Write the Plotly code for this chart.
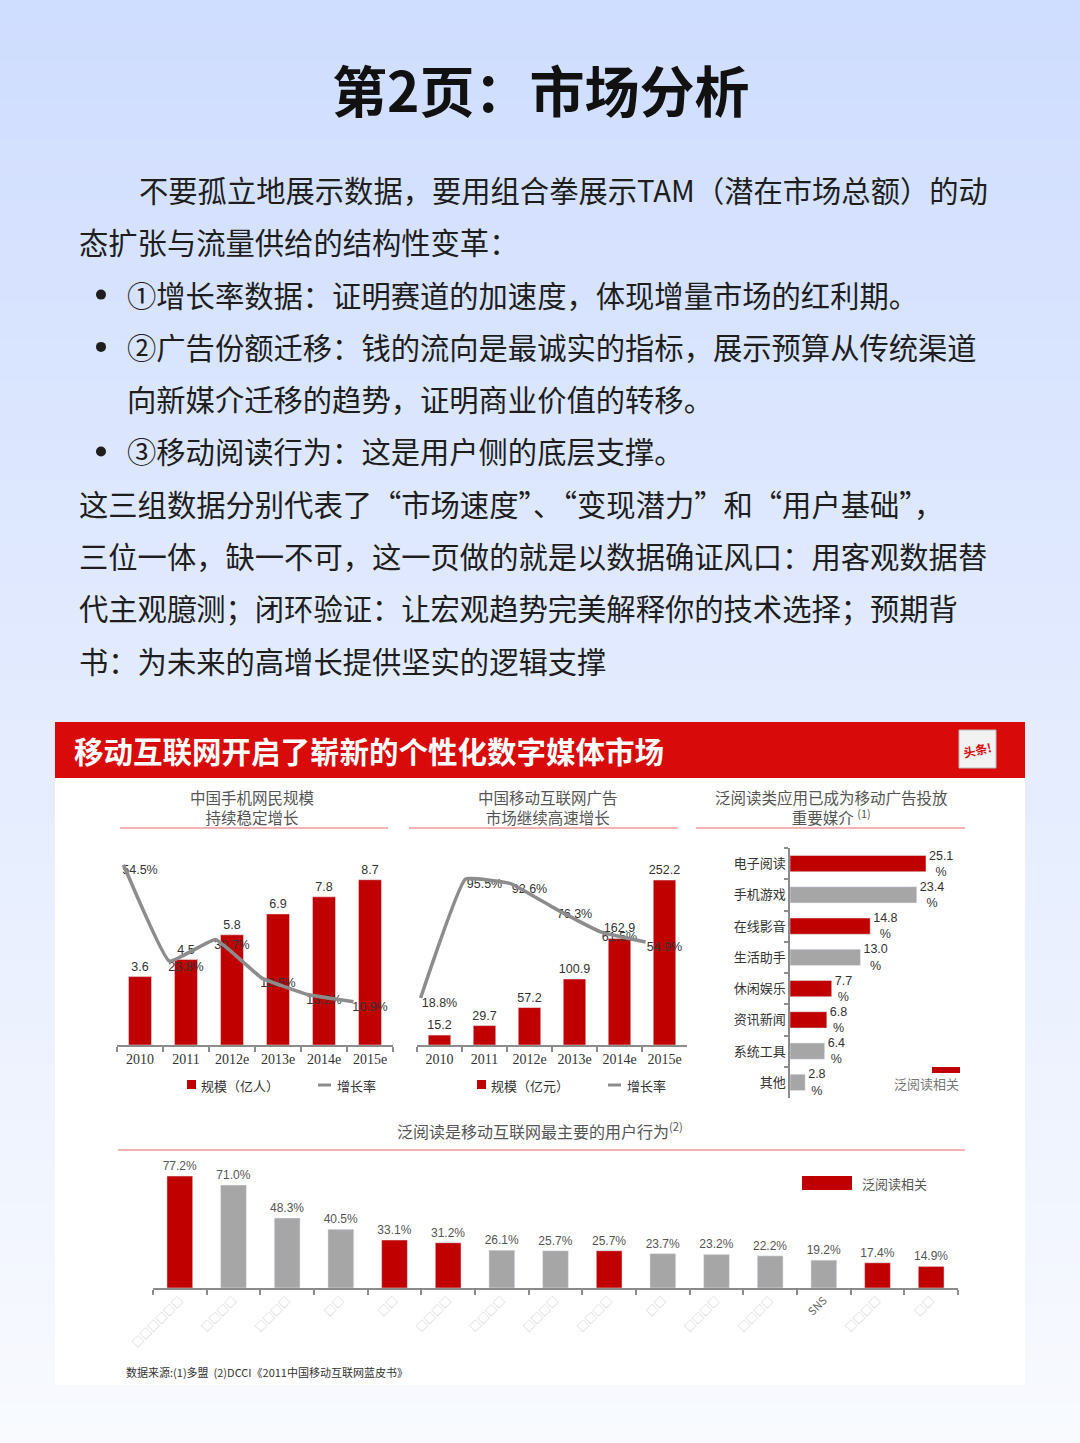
import plotly.graph_objects as go

W, H = 1080, 1443


def fx(p):
    return p / W


def fy(p):
    return 1 - p / H


# ---------------- data ----------------
years = ["2010", "2011", "2012e", "2013e", "2014e", "2015e"]
users = [3.6, 4.5, 5.8, 6.9, 7.8, 8.7]            # 规模（亿人）
users_growth = [54.5, 23.8, 30.7, 18.5, 13.2, 10.9]  # 增长率 %
ad_market = [15.2, 29.7, 57.2, 100.9, 162.9, 252.2]  # 规模（亿元）
ad_growth = [18.8, 95.5, 92.6, 76.3, 61.5, 54.9]     # 增长率 %

media = ["电子阅读", "手机游戏", "在线影音", "生活助手", "休闲娱乐", "资讯新闻", "系统工具", "其他"]
media_share = [25.1, 23.4, 14.8, 13.0, 7.7, 6.8, 6.4, 2.8]
media_reading = [True, False, True, False, True, True, False, False]

behavior_labels = ["□□□□□□", "□□□□", "□□□□", "□□", "□□", "□□□□", "□□□□", "□□□□",
                   "□□□□", "□□", "□□□□", "□□□□", "SNS", "□□□□", "□□"]
behavior_share = [77.2, 71.0, 48.3, 40.5, 33.1, 31.2, 26.1, 25.7, 25.7, 23.7, 23.2, 22.2, 19.2, 17.4, 14.9]
behavior_reading = [True, False, False, False, True, True, False, False, True, False, False, False, False, True, True]

# ---------------- styles ----------------
RED = "#C00000"
GRAY = "#A6A6A6"
LINE_GRAY = "#8C8C8C"
CJK = "Noto Sans CJK SC"
SANS = "Liberation Sans"
SERIF = "Liberation Serif"

fig = go.Figure()

bar_common = dict(textposition="outside", textangle=0, cliponaxis=False, constraintext="none",
                  showlegend=False, hoverinfo="skip")

# chart 1: 手机网民规模
fig.add_trace(go.Bar(x=years, y=users, xaxis="x", yaxis="y", width=0.5,
                     marker=dict(color=RED), text=[f"{v:.1f}" for v in users],
                     textfont=dict(family=SANS, size=12.5, color="#333"), **bar_common))
fig.add_trace(go.Scatter(x=years, y=users_growth, xaxis="x2", yaxis="y2", mode="lines",
                         line=dict(color=LINE_GRAY, width=3.5, shape="spline", smoothing=0.3),
                         showlegend=False, hoverinfo="skip"))
fig.add_trace(go.Scatter(x=years, y=users_growth, xaxis="x", yaxis="y2", mode="text",
                         text=[f"{v:.1f}%" for v in users_growth], textposition="bottom center",
                         textfont=dict(family=SANS, size=12.5, color="#333"), cliponaxis=False,
                         showlegend=False, hoverinfo="skip"))

# chart 2: 移动互联网广告
fig.add_trace(go.Bar(x=years, y=ad_market, xaxis="x3", yaxis="y3", width=0.5,
                     marker=dict(color=RED), text=[f"{v:.1f}" for v in ad_market],
                     textfont=dict(family=SANS, size=12.5, color="#333"), **bar_common))
fig.add_trace(go.Scatter(x=years, y=ad_growth, xaxis="x4", yaxis="y4", mode="lines",
                         line=dict(color=LINE_GRAY, width=3.5, shape="spline", smoothing=0.3),
                         showlegend=False, hoverinfo="skip"))
fig.add_trace(go.Scatter(x=years, y=ad_growth, xaxis="x3", yaxis="y4", mode="text",
                         text=[f"{v:.1f}%" for v in ad_growth], textposition="bottom center",
                         textfont=dict(family=SANS, size=12.5, color="#333"), cliponaxis=False,
                         showlegend=False, hoverinfo="skip"))

# chart 3: 泛阅读类应用
fig.add_trace(go.Bar(x=media_share, y=media, orientation="h", xaxis="x5", yaxis="y5", width=0.52,
                     marker=dict(color=[RED if r else GRAY for r in media_reading]),
                     text=[f"{v:.1f}<br>%" for v in media_share],
                     textfont=dict(family=SANS, size=12.5, color="#333"), **bar_common))

# chart 4: 用户行为
bx = [str(i) for i in range(len(behavior_share))]
fig.add_trace(go.Bar(x=bx, y=behavior_share, xaxis="x6", yaxis="y6", width=0.48,
                     marker=dict(color=[RED if r else GRAY for r in behavior_reading]),
                     text=[f"{v:.1f}%" for v in behavior_share],
                     textfont=dict(family=SANS, size=12, color="#555"), **bar_common))

tick_text = [f'<span style="color:#6e6e6e">{t}</span>' if t == "SNS" else t for t in behavior_labels]

cat_axis = dict(type="category", showline=True, linecolor=LINE_GRAY, linewidth=1.5,
                ticks="outside", tickson="boundaries", ticklen=5, tickcolor=LINE_GRAY,
                tickwidth=1.5, showgrid=False, zeroline=False, fixedrange=True, automargin=False)
hidden = dict(visible=False, showgrid=False, zeroline=False, fixedrange=True, automargin=False)

fig.update_layout(
    width=W, height=H, margin=dict(l=0, r=0, t=0, b=0, pad=0, autoexpand=False),
    paper_bgcolor="#E6ECFD", plot_bgcolor="rgba(0,0,0,0)", showlegend=False,
    xaxis=dict(cat_axis, domain=[fx(117), fx(393)], anchor="y",
               tickfont=dict(family=SERIF, size=14, color="#333")),
    yaxis=dict(hidden, domain=[fy(1045), fy(860)], anchor="x", range=[0, 9.74]),
    xaxis2=dict(hidden, type="category", overlaying="x", anchor="y2", range=[-0.141, 5.859]),
    yaxis2=dict(hidden, overlaying="y", anchor="x2", range=[-2.86, 56.0]),
    xaxis3=dict(cat_axis, domain=[fx(417), fx(687)], anchor="y3",
                tickfont=dict(family=SERIF, size=14, color="#333")),
    yaxis3=dict(hidden, domain=[fy(1045), fy(860)], anchor="x3", range=[0, 282.9]),
    xaxis4=dict(hidden, type="category", overlaying="x3", anchor="y4", range=[-0.08, 5.92]),
    yaxis4=dict(hidden, overlaying="y3", anchor="x4", range=[-11.47, 107.8]),
    xaxis5=dict(hidden, domain=[fx(790), fx(965)], anchor="y5", range=[0, 32.3]),
    yaxis5=dict(cat_axis, domain=[fy(1098), fy(848)], anchor="x5", range=[7.5, -0.5],
                ticklen=4, tickfont=dict(family=CJK, size=13, color="#333")),
    xaxis6=dict(cat_axis, domain=[fx(153), fx(958)], anchor="y6", tickmode="array",
                tickvals=bx, ticktext=tick_text, tickangle=-45,
                tickfont=dict(family=CJK, size=11, color="#cfcfcf")),
    yaxis6=dict(hidden, domain=[fy(1288), fy(1160)], anchor="x6", range=[0, 88.3]),
)

shapes = []
# background gradient
top = (207, 221, 254)
bot = (248, 250, 254)
N = 72
for i in range(N):
    t = i / (N - 1)
    c = tuple(round(top[k] + (bot[k] - top[k]) * t) for k in range(3))
    shapes.append(dict(type="rect", xref="paper", yref="paper", x0=0, x1=1,
                       y0=1 - (i + 1) / N - 0.001, y1=1 - i / N,
                       fillcolor=f"rgb{c}", line=dict(width=0), layer="below"))
# white card + red header
shapes.append(dict(type="rect", xref="paper", yref="paper", x0=fx(55), x1=fx(1025),
                   y0=fy(1385), y1=fy(722), fillcolor="white", line=dict(width=0), layer="below"))
shapes.append(dict(type="rect", xref="paper", yref="paper", x0=fx(55), x1=fx(1025),
                   y0=fy(778), y1=fy(722), fillcolor="#D90A0A", line=dict(width=0), layer="below"))
# header icon
shapes.append(dict(type="rect", xref="paper", yref="paper", x0=fx(959), x1=fx(996),
                   y0=fy(768), y1=fy(730), fillcolor="#F2F2F2", line=dict(color="#BBBBBB", width=1),
                   layer="below"))
# title underlines
for x0, x1, y in [(120, 388, 828), (409, 678, 828), (696, 965, 828), (118, 965, 1150)]:
    shapes.append(dict(type="line", xref="paper", yref="paper", x0=fx(x0), x1=fx(x1),
                       y0=fy(y), y1=fy(y), line=dict(color="#EC9A9A", width=1.5), layer="below"))
# legends
shapes.append(dict(type="rect", xref="paper", yref="paper", x0=fx(187), x1=fx(196),
                   y0=fy(1089), y1=fy(1080), fillcolor=RED, line=dict(width=0)))
shapes.append(dict(type="line", xref="paper", yref="paper", x0=fx(318), x1=fx(331),
                   y0=fy(1085), y1=fy(1085), line=dict(color=LINE_GRAY, width=3)))
shapes.append(dict(type="rect", xref="paper", yref="paper", x0=fx(477), x1=fx(486),
                   y0=fy(1089), y1=fy(1080), fillcolor=RED, line=dict(width=0)))
shapes.append(dict(type="line", xref="paper", yref="paper", x0=fx(608), x1=fx(621),
                   y0=fy(1085), y1=fy(1085), line=dict(color=LINE_GRAY, width=3)))
shapes.append(dict(type="rect", xref="paper", yref="paper", x0=fx(932), x1=fx(960),
                   y0=fy(1073), y1=fy(1067), fillcolor=RED, line=dict(width=0)))
shapes.append(dict(type="rect", xref="paper", yref="paper", x0=fx(802), x1=fx(852),
                   y0=fy(1190), y1=fy(1176), fillcolor=RED, line=dict(width=0)))

ann = []


def text(x, y, s, size, color="#222", family=CJK, xanchor="left", yanchor="middle", **kw):
    ann.append(dict(x=fx(x), y=fy(y), xref="paper", yref="paper", text=s, showarrow=False,
                    xanchor=xanchor, yanchor=yanchor, font=dict(family=family, size=size, color=color),
                    **kw))


# page title
text(540, 88, "<b>第2页：市场分析</b>", 55, "#111", xanchor="center")

body = [
    (137, "不要孤立地展示数据，要用组合拳展示TAM（潜在市场总额）的动", False),
    (77, "态扩张与流量供给的结构性变革：", False),
    (125, "①增长率数据：证明赛道的加速度，体现增量市场的红利期。", True),
    (125, "②广告份额迁移：钱的流向是最诚实的指标，展示预算从传统渠道", True),
    (125, "向新媒介迁移的趋势，证明商业价值的转移。", False),
    (125, "③移动阅读行为：这是用户侧的底层支撑。", True),
    (77, "这三组数据分别代表了“市场速度”、“变现潜力”和“用户基础”，", False),
    (77, "三位一体，缺一不可，这一页做的就是以数据确证风口：用客观数据替", False),
    (77, "代主观臆测；闭环验证：让宏观趋势完美解释你的技术选择；预期背", False),
    (77, "书：为未来的高增长提供坚实的逻辑支撑", False),
]
for i, (x, s, bullet) in enumerate(body):
    y = 189 + 52.3 * i
    text(x, y, s, 29.3, "#1E1E1E")
    if bullet:
        shapes.append(dict(type="circle", xref="paper", yref="paper",
                           x0=fx(96), x1=fx(106), y0=fy(y + 6), y1=fy(y - 4),
                           fillcolor="#1E1E1E", line=dict(width=0)))

fig.update_layout(shapes=shapes)

# header
text(72, 750, "<b>移动互联网开启了崭新的个性化数字媒体市场</b>", 29.5, "white")
text(977, 749, "<b>头条!</b>", 12, "#D90A0A", xanchor="center", textangle=-12)

# chart titles
text(252, 807, "中国手机网民规模<br>持续稳定增长", 15.5, "#555", xanchor="center")
text(548, 807, "中国移动互联网广告<br>市场继续高速增长", 15.5, "#555", xanchor="center")
text(831, 807, "泛阅读类应用已成为移动广告投放<br>重要媒介 <sup>(1)</sup>", 15.5, "#555", xanchor="center")
text(540, 1130, "泛阅读是移动互联网最主要的用户行为<sup>(2)</sup>", 16, "#555", xanchor="center")

# legend texts
text(199, 1085, "规模（亿人）", 13, "#333")
text(335, 1085, "增长率", 13, "#333")
text(489, 1085, "规模（亿元）", 13, "#333")
text(625, 1085, "增长率", 13, "#333")
text(961, 1083, "泛阅读相关", 13, "#777", xanchor="right")
text(860, 1183, "泛阅读相关", 13, "#555")

# source
text(124, 1372, "数据来源:(1)多盟  (2)DCCI《2011中国移动互联网蓝皮书》", 11, "#333")

fig.update_layout(annotations=ann)
fig.write_html("out.html")
